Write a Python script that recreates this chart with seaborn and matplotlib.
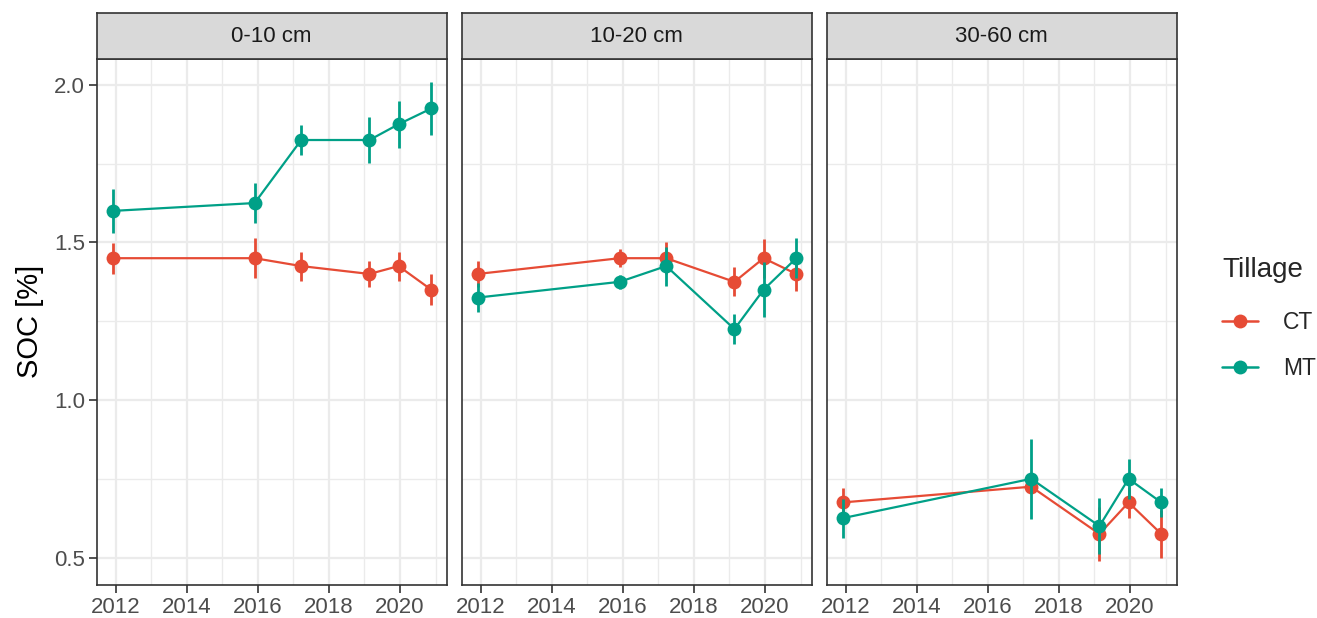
import numpy as np
import pandas as pd
import matplotlib
matplotlib.use("Agg")
import matplotlib.pyplot as plt
from matplotlib.lines import Line2D
import seaborn as sns

sns.set_theme(style="white")
plt.rcParams["font.family"] = ["Liberation Sans", "DejaVu Sans"]

# Sampling dates (decimal years) per depth
years_top = [2011.91, 2015.91, 2017.22, 2019.14, 2019.96, 2020.88]
years_mid = [2011.91, 2015.91, 2017.22, 2019.14, 2019.96, 2020.88]
years_deep = [2011.91, 2017.22, 2019.14, 2019.96, 2020.88]

# SOC means and standard errors, 0-10 cm
ct_top = [1.45, 1.45, 1.425, 1.40, 1.425, 1.35]
ct_top_se = [0.049, 0.064, 0.046, 0.042, 0.046, 0.05]
mt_top = [1.60, 1.625, 1.825, 1.825, 1.875, 1.925]
mt_top_se = [0.07, 0.063, 0.048, 0.074, 0.075, 0.085]

# 10-20 cm
ct_mid = [1.40, 1.45, 1.45, 1.375, 1.45, 1.40]
ct_mid_se = [0.04, 0.028, 0.05, 0.046, 0.062, 0.055]
mt_mid = [1.325, 1.375, 1.425, 1.225, 1.35, 1.45]
mt_mid_se = [0.047, 0.022, 0.062, 0.047, 0.087, 0.064]

# 30-60 cm
ct_deep = [0.675, 0.725, 0.575, 0.675, 0.575]
ct_deep_se = [0.046, 0.02, 0.085, 0.05, 0.075]
mt_deep = [0.625, 0.75, 0.60, 0.75, 0.675]
mt_deep_se = [0.062, 0.126, 0.09, 0.064, 0.046]

depths = ["0-10 cm", "10-20 cm", "30-60 cm"]
tillage = ["CT", "MT"]
colors = {"CT": "#E64B35", "MT": "#00A087"}

rows = []
for depth, yrs, series in [
    ("0-10 cm", years_top, {"CT": (ct_top, ct_top_se), "MT": (mt_top, mt_top_se)}),
    ("10-20 cm", years_mid, {"CT": (ct_mid, ct_mid_se), "MT": (mt_mid, mt_mid_se)}),
    ("30-60 cm", years_deep, {"CT": (ct_deep, ct_deep_se), "MT": (mt_deep, mt_deep_se)}),
]:
    for t in tillage:
        vals, ses = series[t]
        for y, v, s in zip(yrs, vals, ses):
            rows.append({"Depth": depth, "Year": y, "Tillage": t, "SOC": v, "SE": s})
df = pd.DataFrame(rows)

W, H = 1317, 618
fig = plt.figure(figsize=(W / 100, H / 100), dpi=100)

panel_left = [96.7, 461.7, 826.7]
panel_w = 350.0
panel_top, panel_bot = 58.7, 584.7
strip_top = 13.3

xlim = (2011.465, 2021.314)
ylim = (0.414, 2.083)
dark = "#333333"
grid_c = "#EBEBEB"

for i, depth in enumerate(depths):
    ax = fig.add_axes([panel_left[i] / W, (H - panel_bot) / H,
                       panel_w / W, (panel_bot - panel_top) / H])
    sub = df[df["Depth"] == depth]

    ax.set_xlim(*xlim)
    ax.set_ylim(*ylim)
    for xv in range(2013, 2022, 2):
        ax.axvline(xv, color=grid_c, lw=1.0, zorder=0)
    for yv in [0.75, 1.25, 1.75]:
        ax.axhline(yv, color=grid_c, lw=1.0, zorder=0)
    for xv in range(2012, 2021, 2):
        ax.axvline(xv, color=grid_c, lw=1.6, zorder=0)
    for yv in [0.5, 1.0, 1.5, 2.0]:
        ax.axhline(yv, color=grid_c, lw=1.6, zorder=0)

    for k, t in enumerate(tillage):
        g = sub[sub["Tillage"] == t]
        ax.vlines(g["Year"], g["SOC"] - g["SE"], g["SOC"] + g["SE"],
                  color=colors[t], lw=2.0, zorder=2 + 2 * k)
    sns.lineplot(data=sub, x="Year", y="SOC", hue="Tillage", hue_order=tillage,
                 palette=colors, marker="o", markersize=10, markeredgewidth=0,
                 linewidth=1.6, sort=True, estimator=None, legend=False, ax=ax,
                 zorder=3)
    # keep MT drawn above CT
    for ln in ax.get_lines():
        if matplotlib.colors.to_hex(ln.get_color()).lower() == colors["MT"].lower():
            ln.set_zorder(5)

    ax.set_xticks(range(2012, 2021, 2))
    ax.set_yticks([0.5, 1.0, 1.5, 2.0])
    ax.set_xlabel("")
    ax.set_ylabel("")
    ax.tick_params(axis="both", length=6, width=1.2, color=dark,
                   labelsize=16, labelcolor="#4D4D4D", pad=2.5, direction="out",
                   bottom=True, left=True)
    if i == 0:
        ax.set_yticklabels(["0.5", "1.0", "1.5", "2.0"])
    else:
        ax.tick_params(axis="y", left=False, labelleft=False)
    for sp in ax.spines.values():
        sp.set_color(dark)
        sp.set_linewidth(1.2)
        sp.set_visible(True)
        sp.set_zorder(10)

    sax = fig.add_axes([panel_left[i] / W, (H - panel_top) / H,
                        panel_w / W, (panel_top - strip_top) / H])
    sax.set_facecolor("#D9D9D9")
    sax.set_xticks([])
    sax.set_yticks([])
    for sp in sax.spines.values():
        sp.set_color(dark)
        sp.set_linewidth(1.2)
    sax.text(0.5, 0.5, depth, ha="center", va="center", fontsize=16,
             color="#1A1A1A", transform=sax.transAxes)

fig.text(30 / W, 1 - 321 / H, "SOC [%]", rotation=90, ha="center", va="center",
         fontsize=21, color="black")

handles = [Line2D([0], [0], color=colors[t], marker="o", markersize=10,
                  markeredgewidth=0, lw=1.8) for t in tillage]
leg = fig.legend(handles, tillage, title="Tillage", loc="upper left",
                 bbox_to_anchor=(1213 / W, 1 - 248 / H), frameon=False,
                 fontsize=16.5, title_fontsize=20, handlelength=1.55,
                 handletextpad=1.1, labelspacing=1.0, alignment="left",
                 borderaxespad=0)
leg._legend_box.sep = 20

fig.savefig("out.png", dpi=100, facecolor="white")
